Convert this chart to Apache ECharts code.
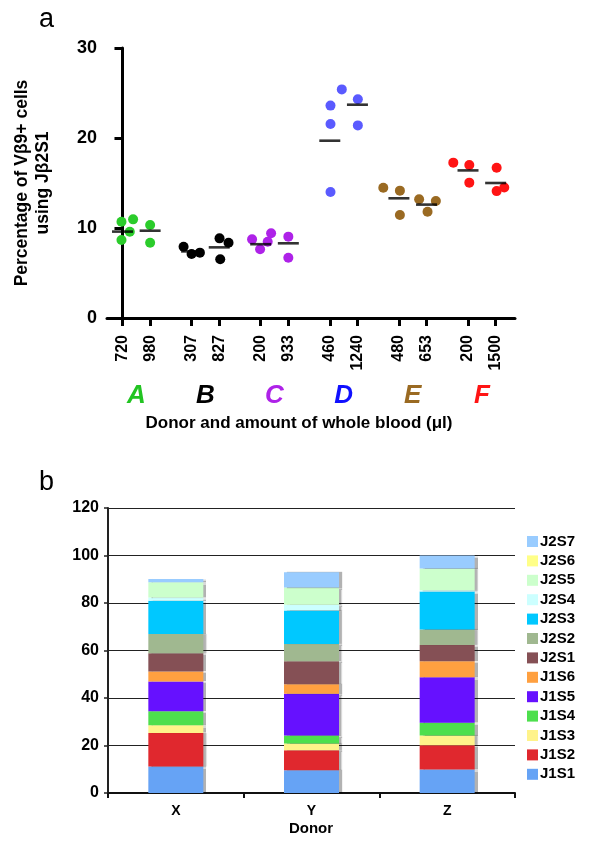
<!DOCTYPE html>
<html><head><meta charset="utf-8">
<script src="https://cdn.jsdelivr.net/npm/echarts@6/dist/echarts.min.js"></script>
<style>html,body{margin:0;padding:0;background:#fff}#c{width:591px;height:847px}</style>
</head><body><div id="c"></div>
<script>
// ---------- Panel a data ----------
const donors = ['A', 'B', 'C', 'D', 'E', 'F'];
const amounts = ['720', '980', '307', '827', '200', '933', '460', '1240', '480', '653', '200', '1500'];
const pointsA = [[10.7, 10.96, 9.59, 8.67], [10.33, 8.37]];
const pointsB = [[7.92, 7.11, 7.26], [8.85, 8.37, 6.52]];
const pointsC = [[8.74, 9.41, 8.48, 7.63], [9.04, 6.7]];
const pointsD = [[23.6, 25.4, 21.56, 14.0], [24.3, 21.4]];
const pointsE = [[14.48, 14.15, 11.44], [13.2, 13.0, 11.8]];
const pointsF = [[17.26, 17.0, 15.04], [16.7, 14.5, 14.1]];
const means = [9.6, 9.7, 7.4, 7.85, 8.2, 8.3, 19.7, 23.7, 13.3, 12.6, 16.4, 15.0];
const yTicksA = [0, 10, 20, 30];

// ---------- Panel b data ----------
const segments = ['J1S1', 'J1S2', 'J1S3', 'J1S4', 'J1S5', 'J1S6', 'J2S1', 'J2S2', 'J2S3', 'J2S4', 'J2S5', 'J2S6', 'J2S7'];
const donorsB = ['X', 'Y', 'Z'];
const donorX = [11.2, 14.1, 3.2, 5.9, 12.6, 4.2, 7.6, 8.2, 13.9, 1.4, 6.4, 0, 1.4];
const donorY = [9.6, 8.4, 2.8, 3.4, 17.6, 4.0, 9.7, 7.2, 14.1, 2.5, 7.2, 0, 6.5];
const donorZ = [9.9, 10.2, 4.1, 5.4, 19.1, 6.8, 6.8, 6.5, 16.0, 0.6, 9.1, 0, 5.5];

// ---------- styles / layout ----------
const FONT = '"Liberation Sans", Arial, Helvetica, sans-serif';
const donorColors = ['#2bcc2b', '#000000', '#ae22e8', '#5a5aff', '#9a6a22', '#ff1414'];
const letterColors = ['#22c422', '#000000', '#ae22e8', '#1010ff', '#9a6a22', '#ff1414'];
const segColors = ['#66a3f5', '#e0282e', '#fff38a', '#4ddf4d', '#6611ff', '#ffa040', '#855055', '#a0b890', '#00c8ff', '#ccffff', '#ccffcc', '#ffff88', '#99ccff'];
// horizontal jitter (px) of overlapping points, as drawn in the reference
const JIT = [[-1, 10.6, 7.3, -1], [0, 0], [-8, 0, 8.3], [0.3, 9.3, 1], [-8.6, 10.4, 7, -0.6], [0, 0],
             [0.7, 12, 0.7, 0.7], [0.4, 0.4], [-15.6, 1, 1], [-7.4, 9.3, 1], [-14.7, 1.3, 1.3], [1, 8.6, 1]];
const PX_PER_UNIT = 27.62;
const colPos = i => Math.floor(i / 2) * 2.5 + (i % 2);
const colPositions = amounts.map((_, i) => colPos(i));
const groupCenters = donors.map((_, g) => g * 2.5 + 0.5);

const allPoints = [pointsA, pointsB, pointsC, pointsD, pointsE, pointsF];

const scatterSeries = allPoints.map((cols, g) => {
  const data = [];
  cols.forEach((vals, m) => {
    const c = g * 2 + m;
    vals.forEach((v, k) => data.push([colPos(c) + JIT[c][k] / PX_PER_UNIT, v]));
  });
  return {
    type: 'scatter', name: donors[g], xAxisIndex: 0, yAxisIndex: 0,
    symbol: 'circle', symbolSize: 10, z: 3,
    itemStyle: { color: donorColors[g], opacity: 1 },
    data
  };
});

const meanSeries = {
  type: 'scatter', name: 'mean', xAxisIndex: 0, yAxisIndex: 0,
  symbol: 'rect', symbolSize: [21, 2.6], z: 4,
  itemStyle: { color: '#000' },
  data: means.map((v, i) => [colPos(i), v])
};

const donorData = [donorX, donorY, donorZ];
const barSeries = segments.map((s, i) => ({
  type: 'bar', name: s, stack: 'total', xAxisIndex: 2, yAxisIndex: 1,
  barWidth: 55,
  itemStyle: { color: segColors[i], shadowColor: 'rgba(0,0,0,0.3)', shadowOffsetX: 3, shadowOffsetY: 0, shadowBlur: 1 },
  emphasis: { disabled: true },
  data: donorData.map(d => d[i])
}));

const rich = {};
donors.forEach((d, g) => {
  rich[d] = { color: letterColors[g], fontStyle: 'italic', fontWeight: 'bold', fontSize: 26, fontFamily: FONT };
});

const chart = echarts.init(document.getElementById('c'), null, { renderer: 'canvas' });
chart.setOption({
  animation: false,
  backgroundColor: '#fff',
  textStyle: { fontFamily: FONT },
  grid: [
    { left: 107, top: 48, width: 408, height: 270 },
    { left: 108, top: 508, width: 407, height: 285 }
  ],
  xAxis: [
    {
      type: 'value', gridIndex: 0, min: -0.56, max: 14.2,
      axisLine: { show: true, lineStyle: { color: '#000', width: 3 } },
      axisTick: { show: true, customValues: colPositions, length: 8, lineStyle: { color: '#000', width: 3 } },
      axisLabel: {
        customValues: colPositions, rotate: 90, margin: 17,
        fontWeight: 'bold', fontSize: 16, color: '#000', fontFamily: FONT,
        formatter: v => { const i = colPositions.findIndex(p => Math.abs(p - v) < 1e-6); return i >= 0 ? amounts[i] : ''; }
      },
      splitLine: { show: false }
    },
    {
      type: 'value', gridIndex: 0, min: -0.56, max: 14.2, position: 'bottom',
      axisLine: { show: false }, axisTick: { show: false }, splitLine: { show: false },
      axisLabel: {
        customValues: groupCenters, margin: 65, rich,
        formatter: v => { const g = groupCenters.findIndex(p => Math.abs(p - v) < 1e-6); return g >= 0 ? '{' + donors[g] + '|' + donors[g] + '}' : ''; }
      }
    },
    {
      type: 'category', gridIndex: 1, data: donorsB,
      axisLine: { lineStyle: { color: '#111', width: 2 } },
      axisTick: { show: true, length: 5, lineStyle: { color: '#111', width: 2 } },
      axisLabel: { fontWeight: 'bold', fontSize: 14, color: '#000', margin: 11, fontFamily: FONT }
    }
  ],
  yAxis: [
    {
      type: 'value', gridIndex: 0, min: 0, max: 30, interval: 10,
      axisLine: { show: true, lineStyle: { color: '#000', width: 3 } },
      axisTick: { show: true, length: 8, lineStyle: { color: '#000', width: 3 } },
      axisLabel: { fontWeight: 'bold', fontSize: 18, color: '#000', margin: 10, fontFamily: FONT,
                   formatter: v => yTicksA.includes(v) ? String(v) : '' },
      splitLine: { show: false },
      name: 'Percentage of V\u03B29+ cells\nusing J\u03B22S1', nameLocation: 'middle', nameGap: 53,
      nameTextStyle: { fontWeight: 'bold', fontSize: 17.5, color: '#000', lineHeight: 21, fontFamily: FONT }
    },
    {
      type: 'value', gridIndex: 1, min: 0, max: 120, interval: 20,
      axisLine: { show: true, lineStyle: { color: '#222', width: 2 } },
      axisTick: { show: true, length: 4, lineStyle: { color: '#222', width: 1.5 } },
      axisLabel: { fontWeight: 'bold', fontSize: 16, color: '#000', margin: 9, fontFamily: FONT },
      splitLine: { show: true, lineStyle: { color: '#222', width: 1 } }
    }
  ],
  legend: {
    data: segments.slice().reverse(),
    orient: 'vertical', left: 522, top: 529,
    itemWidth: 11, itemHeight: 11, itemGap: 4.4, icon: 'rect',
    selectedMode: false,
    textStyle: { fontWeight: 'bold', fontSize: 15, color: '#000', padding: [0, 0, 0, -3], fontFamily: FONT, lineHeight: 14 }
  },
  graphic: [
    { type: 'text', left: 39, top: 6, style: { text: 'a', font: '27px ' + FONT, fill: '#000' } },
    { type: 'text', left: 39, top: 469, style: { text: 'b', font: '27px ' + FONT, fill: '#000' } },
    { type: 'text', x: 299, y: 423, style: { text: 'Donor and amount of whole blood (\u03BCl)', font: 'bold 17px ' + FONT, fill: '#000', align: 'center', verticalAlign: 'middle' } },
    { type: 'text', x: 311, y: 829, style: { text: 'Donor', font: 'bold 15px ' + FONT, fill: '#000', align: 'center', verticalAlign: 'middle' } }
  ],
  series: [...scatterSeries, meanSeries, ...barSeries]
});
</script>
</body></html>
